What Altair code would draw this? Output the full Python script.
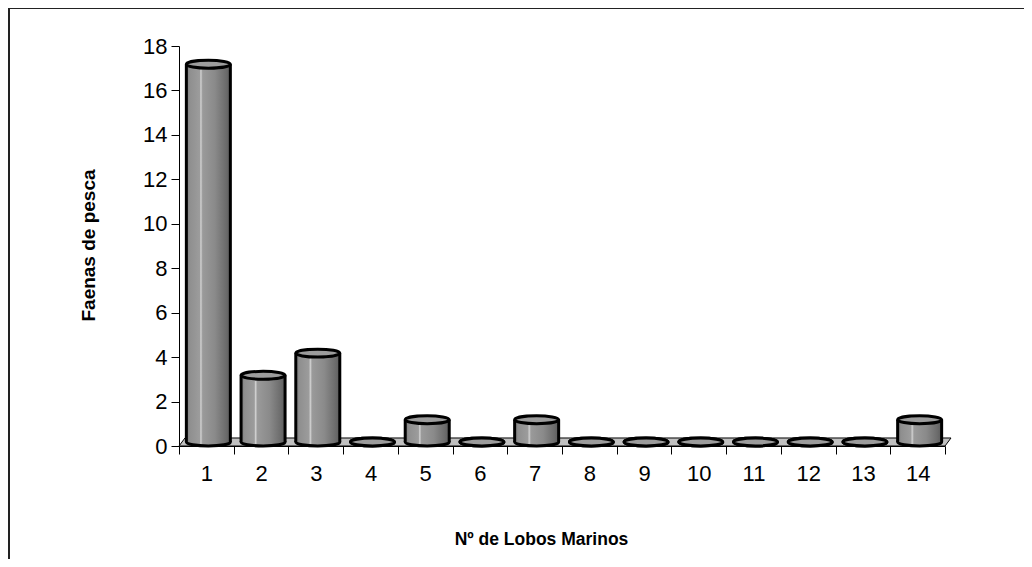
import altair as alt
import pandas as pd

categories = [str(i) for i in range(1, 15)]
values = [17, 3, 4, 0, 1, 0, 1, 0, 0, 0, 0, 0, 0, 1]
y_ticks = [0, 2, 4, 6, 8, 10, 12, 14, 16, 18]
x_title = "Nº de Lobos Marinos"
y_title = "Faenas de pesca"

df = pd.DataFrame({"cat": categories, "val": values})

FONT = "Liberation Sans"
W, H = 766, 400

grad = alt.Gradient(
    gradient="linear", x1=0, x2=1, y1=0, y2=0,
    stops=[
        alt.GradientStop(color="#7a7a7a", offset=0),
        alt.GradientStop(color="#8f8f8f", offset=0.08),
        alt.GradientStop(color="#9c9c9c", offset=0.30),
        alt.GradientStop(color="#d2d2d2", offset=0.33),
        alt.GradientStop(color="#9a9a9a", offset=0.37),
        alt.GradientStop(color="#8a8a8a", offset=0.65),
        alt.GradientStop(color="#6c6c6c", offset=0.9),
        alt.GradientStop(color="#5c5c5c", offset=1),
    ],
)

ellipse = "M -1 0 A 1 0.18 0 1 0 1 0 A 1 0.18 0 1 0 -1 0 Z"
# floor parallelogram (unit box, scaled by size)
floor_shape = "M -1 0.0104 L 0.9845 0.0104 L 1 -0.0104 L -0.9845 -0.0104 Z"

x_enc = alt.X(
    "cat:N", sort=categories,
    scale=alt.Scale(paddingInner=0, paddingOuter=0),
    axis=alt.Axis(
        title=x_title, labelAngle=0, tickBand="extent", tickSize=8,
        domainColor="black", tickColor="black", domainWidth=1, tickWidth=1,
        labelFont=FONT, labelFontSize=22, labelColor="black", labelPadding=9,
        titleFont=FONT, titleFontSize=17.5, titleFontWeight="bold", titleColor="black",
        titleX=362, titleY=93, titleAlign="center", titleBaseline="middle",
        grid=False,
    ),
)
y_scale = alt.Scale(domain=[0, 18], nice=False, zero=True)
y_enc = alt.Y(
    "val:Q", scale=y_scale,
    axis=alt.Axis(
        title=y_title, values=y_ticks, tickSize=8, grid=False,
        domainColor="black", tickColor="black",
        labelFont=FONT, labelFontSize=22, labelColor="black", labelPadding=4,
        titleFont=FONT, titleFontSize=19, titleFontWeight="bold", titleColor="black",
        titleX=-91, titleY=199, titleAlign="center", titleBaseline="middle", titleAngle=-90,
    ),
)

base = alt.Chart(df)

floor = alt.Chart(pd.DataFrame({"z": [0]})).mark_point(
    shape=floor_shape, size=772 * 772, filled=True, fill="#c0c0c0",
    stroke="black", strokeWidth=1, opacity=1, yOffset=-4,
).encode(x=alt.value(W / 2 + 3), y=alt.Y("z:Q", scale=y_scale))

bottom = base.mark_point(
    shape=ellipse, size=44 * 44, filled=True, fill=grad, stroke="black",
    strokeWidth=3, opacity=1, xOffset=2, yOffset=-4,
).encode(x=x_enc, y=alt.datum(0))

bars = base.mark_bar(
    width=44, xOffset=2, yOffset=-4, y2Offset=-4, fill=grad, strokeWidth=0,
).encode(x=x_enc, y=y_enc, y2=alt.datum(0))

left_edge = base.mark_rule(
    color="black", strokeWidth=3, xOffset=-20, yOffset=-4, y2Offset=-4,
).encode(x=x_enc, y=y_enc, y2=alt.datum(0))

right_edge = base.mark_rule(
    color="black", strokeWidth=3, xOffset=24, yOffset=-4, y2Offset=-4,
).encode(x=x_enc, y=y_enc, y2=alt.datum(0))

top = base.mark_point(
    shape=ellipse, size=44 * 44, filled=True, fill="#9c9c9c", stroke="black",
    strokeWidth=3, opacity=1, xOffset=2, yOffset=-4,
).encode(x=x_enc, y=y_enc)

frame_top = alt.Chart(pd.DataFrame({"z": [0]})).mark_rule(
    color="#222222", strokeWidth=2,
).encode(x=alt.value(-172), x2=alt.value(1000), y=alt.value(-38))
frame_left = alt.Chart(pd.DataFrame({"z": [0]})).mark_rule(
    color="#222222", strokeWidth=2,
).encode(x=alt.value(-170), y=alt.value(-39), y2=alt.value(600))

chart = alt.layer(
    floor, bottom, bars, left_edge, right_edge, top, frame_top, frame_left
).properties(
    width=W, height=H,
    padding={"left": 171, "top": 38, "right": 79, "bottom": 113},
    autosize=alt.AutoSizeParams(type="none"),
).configure(
    background="white",
    view=alt.ViewConfig(strokeWidth=0, stroke="transparent"),
)

chart.save("out.html", embed_options={"renderer": "svg", "actions": False})
